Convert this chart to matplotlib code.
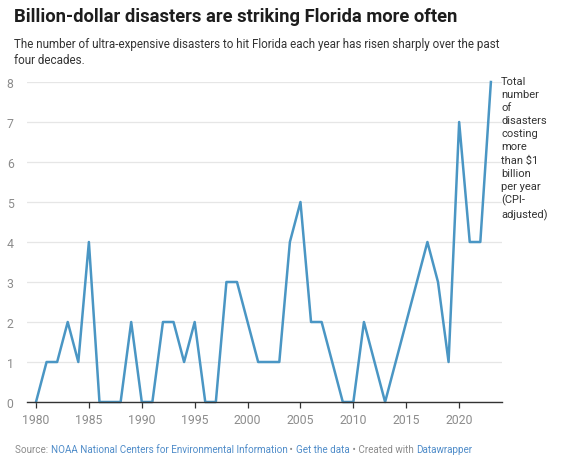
import matplotlib
matplotlib.use("Agg")
import matplotlib.pyplot as plt

plt.rcParams["font.family"] = ["Roboto", "DejaVu Sans"]

years = list(range(1980, 2024))
disasters = [0, 1, 1, 2, 1, 4, 0, 0, 0, 2,
             0, 0, 2, 2, 1, 2, 0, 0, 3, 3,
             2, 1, 1, 1, 4, 5, 2, 2, 1, 0,
             0, 2, 1, 0, 1, 2, 3, 4, 3, 1,
             7, 4, 4, 8]
xticks = [1980, 1985, 1990, 1995, 2000, 2005, 2010, 2015, 2020]
yticks = list(range(0, 9))

title = "Billion-dollar disasters are striking Florida more often"
subtitle = ("The number of ultra-expensive disasters to hit Florida each year has risen sharply over the past\n"
            "four decades.")
label = "Total\nnumber\nof\ndisasters\ncosting\nmore\nthan $1\nbillion\nper year\n(CPI-\nadjusted)"

W, H = 564, 464
fig = plt.figure(figsize=(W / 100, H / 100), dpi=100)
ax = fig.add_axes([27 / W, 1 - 403 / H, (502 - 27) / W, (403 - 83) / H])

ax.plot(years, disasters, color="#4a96c4", lw=1.8, clip_on=False, zorder=3)

ax.set_xlim(1979.15, 2024.05)
ax.set_ylim(0, 8)
ax.set_yticks(yticks)
ax.set_xticks(xticks)
ax.grid(axis="y", color="#e6e6e6", lw=0.9)
ax.set_axisbelow(True)
for s in ["top", "right", "left"]:
    ax.spines[s].set_visible(False)
ax.spines["bottom"].set_color("#333333")
ax.spines["bottom"].set_linewidth(1.0)
ax.spines["bottom"].set_zorder(4)
ax.tick_params(axis="y", length=0, pad=6, labelcolor="#8c8c8c", labelsize=8.8)
ax.tick_params(axis="x", length=4, width=0.9, color="#333333", pad=4,
               labelcolor="#8c8c8c", labelsize=8.8)
for t in ax.get_yticklabels():
    t.set_horizontalalignment("left")
    t.set_x(-0.025)

fig.text(501 / W, 1 - 77 / H, label, ha="left", va="top", fontsize=8,
         color="#333333", linespacing=1.38)

fig.text(14 / W, 1 - 8 / H, title, ha="left", va="top", fontsize=13.2,
         fontweight="bold", color="#1d1d1d")
fig.text(14 / W, 1 - 38 / H, subtitle, ha="left", va="top", fontsize=8.4,
         color="#333333", linespacing=1.3)

src_y = 1 - 450 / H
t1 = fig.text(15 / W, src_y, "Source: ", ha="left", va="center", fontsize=7.1, color="#8c8c8c")
fig.canvas.draw()
r = fig.canvas.get_renderer()
parts = [("NOAA National Centers for Environmental Information", "#4f8cc9"),
         (" \u2022 ", "#8c8c8c"), ("Get the data", "#4f8cc9"),
         (" \u2022 Created with ", "#8c8c8c"), ("Datawrapper", "#4f8cc9")]
x = t1.get_window_extent(r).x1
for txt, c in parts:
    t = fig.text(x / W, src_y, txt, ha="left", va="center", fontsize=7.1, color=c)
    x = t.get_window_extent(r).x1

fig.savefig("out.png", dpi=100)
